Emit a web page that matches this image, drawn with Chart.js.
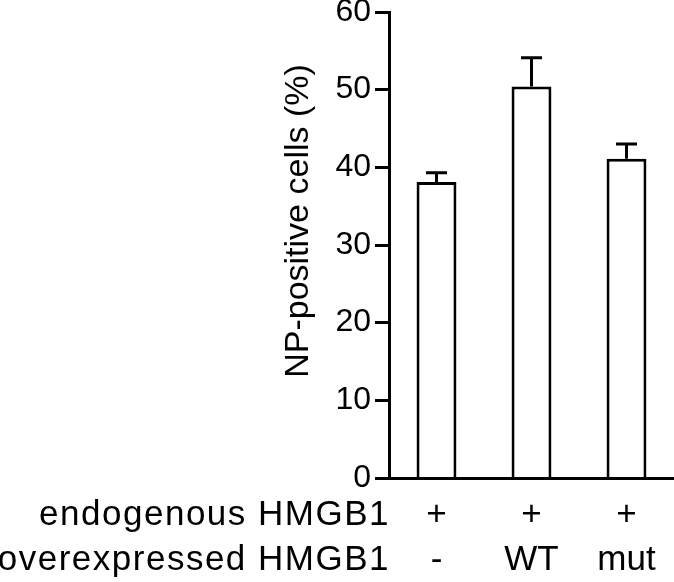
<!DOCTYPE html>
<html>
<head>
<meta charset="utf-8">
<script src="https://cdn.jsdelivr.net/npm/chart.js@4.4.1/dist/chart.umd.min.js"></script>
<style>
  html, body { margin: 0; padding: 0; background: #fff; }
  #wrap { width: 674px; height: 582px; }
</style>
</head>
<body>
<div id="wrap"><canvas id="chart" width="674" height="582"></canvas></div>
<script>
// data
const groups = [['+', '-'], ['+', 'WT'], ['+', 'mut']];
const rowLabels = ['endogenous HMGB1', 'overexpressed HMGB1'];
const means = [38.1, 50.4, 41.1];
const errors = [1.2, 3.7, 1.9];
const yTicks = [0, 10, 20, 30, 40, 50, 60];
const yTitle = 'NP-positive cells (%)';

const FONT = '"Liberation Sans", Arial, Helvetica, sans-serif';
const LABEL_SIZE = 35;
const LABEL_LH = 45;
const LABEL_PAD = 15;

// upward error bars with a cap
const errorBars = {
    id: 'errorBars',
    afterDatasetsDraw(chart) {
        const ctx = chart.ctx;
        const yScale = chart.scales.y;
        const meta = chart.getDatasetMeta(0);
        ctx.save();
        ctx.strokeStyle = '#000';
        ctx.lineWidth = 3;
        meta.data.forEach((bar, i) => {
            const top = yScale.getPixelForValue(means[i] + errors[i]);
            ctx.beginPath();
            ctx.moveTo(bar.x, bar.y);
            ctx.lineTo(bar.x, top);
            ctx.moveTo(bar.x - 10.5, top);
            ctx.lineTo(bar.x + 10.5, top);
            ctx.stroke();
        });
        ctx.restore();
    }
};

// row names left of the category labels, and the y title
const sideText = {
    id: 'sideText',
    afterDraw(chart) {
        const ctx = chart.ctx;
        const area = chart.chartArea;
        ctx.save();
        ctx.fillStyle = '#000';
        ctx.font = LABEL_SIZE + 'px ' + FONT;
        ctx.textAlign = 'right';
        ctx.textBaseline = 'middle';
        ctx.letterSpacing = '1.5px';
        rowLabels.forEach((txt, i) => {
            const y = area.bottom + LABEL_PAD + LABEL_LH / 2 + i * LABEL_LH;
            ctx.fillText(txt, area.left + 1, y);
        });
        ctx.letterSpacing = '0px';
        ctx.font = '34px ' + FONT;
        ctx.translate(308, 221);
        ctx.rotate(-Math.PI / 2);
        ctx.textAlign = 'center';
        ctx.textBaseline = 'alphabetic';
        ctx.fillText(yTitle, 0, 0);
        ctx.restore();
    }
};

const ctx = document.getElementById('chart').getContext('2d');

new Chart(ctx, {
    type: 'bar',
    data: {
        labels: groups,
        datasets: [{
            data: means,
            backgroundColor: '#fff',
            borderColor: '#000',
            borderWidth: 3,
            barPercentage: 0.42,
            categoryPercentage: 1.0
        }]
    },
    options: {
        responsive: false,
        animation: false,
        layout: { padding: 0 },
        plugins: {
            legend: { display: false },
            tooltip: { enabled: false }
        },
        scales: {
            x: {
                grid: { display: false, drawTicks: false },
                border: { display: true, color: '#000', width: 3, z: 1 },
                ticks: {
                    color: '#000',
                    padding: LABEL_PAD,
                    maxRotation: 0,
                    font: { family: FONT, size: LABEL_SIZE, lineHeight: LABEL_LH / LABEL_SIZE }
                },
                afterFit(scale) {
                    scale.height = 582 - 478;
                    scale.paddingLeft = 0;
                    scale.paddingRight = 0;
                }
            },
            y: {
                min: 0,
                max: 60,
                afterBuildTicks(scale) { scale.ticks = yTicks.map(v => ({ value: v })); },
                grid: {
                    display: true,
                    drawOnChartArea: false,
                    drawTicks: true,
                    tickLength: 14,
                    tickWidth: 3,
                    tickColor: '#000'
                },
                border: { display: true, color: '#000', width: 3, z: 1 },
                ticks: {
                    color: '#000',
                    padding: 4,
                    font: { family: FONT, size: 32 }
                },
                afterFit(scale) {
                    scale.width = 389;
                    scale.paddingTop = 12;
                    scale.paddingBottom = 0;
                }
            }
        }
    },
    plugins: [errorBars, sideText]
});
</script>
</body>
</html>
